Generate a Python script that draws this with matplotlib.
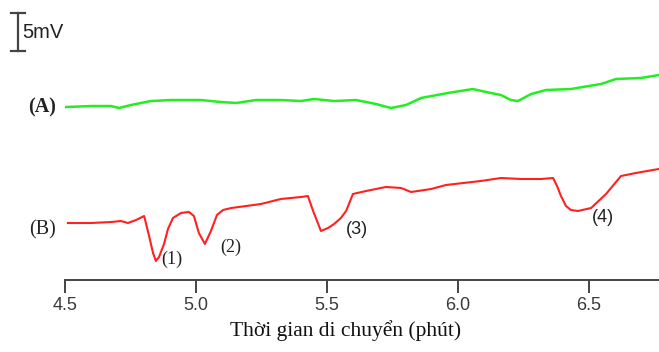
import matplotlib
matplotlib.use("Agg")
import matplotlib.pyplot as plt

# Trace (A) - green: time (min), signal (mV)
t_a = [4.504, 4.599, 4.676, 4.706, 4.752, 4.828, 4.905, 5.019, 5.095, 5.153,
       5.229, 5.324, 5.401, 5.450, 5.527, 5.611, 5.687, 5.744, 5.802, 5.859,
       5.962, 6.057, 6.107, 6.164, 6.202, 6.229, 6.279, 6.336, 6.431, 6.546,
       6.603, 6.698, 6.767]
v_a = [22.76, 22.89, 22.89, 22.63, 23.03, 23.55, 23.68, 23.68, 23.42, 23.29,
       23.68, 23.68, 23.55, 23.82, 23.55, 23.68, 23.16, 22.63, 23.03, 23.95,
       24.61, 25.13, 24.74, 24.34, 23.68, 23.55, 24.47, 25.00, 25.13, 25.79,
       26.45, 26.58, 26.97]

# Trace (B) - red
t_b = [4.511, 4.599, 4.676, 4.714, 4.740, 4.771, 4.802, 4.821, 4.836, 4.847,
       4.859, 4.878, 4.893, 4.912, 4.943, 4.973, 4.992, 5.011, 5.034, 5.057,
       5.080, 5.103, 5.134, 5.248, 5.324, 5.401, 5.427, 5.447, 5.477, 5.504,
       5.527, 5.553, 5.573, 5.599, 5.649, 5.725, 5.782, 5.821, 5.897, 5.954,
       6.088, 6.164, 6.240, 6.317, 6.363, 6.378, 6.393, 6.412, 6.431, 6.458,
       6.508, 6.565, 6.622, 6.679, 6.767]
v_b = [7.50, 7.50, 7.63, 7.76, 7.50, 7.89, 8.42, 5.79, 3.55, 2.50,
       3.03, 4.74, 6.71, 8.16, 8.82, 8.95, 8.42, 6.18, 4.74, 6.45,
       8.55, 9.21, 9.47, 10.00, 10.66, 10.92, 11.05, 9.08, 6.45, 6.84,
       7.37, 8.16, 9.08, 11.32, 11.71, 12.24, 12.11, 11.58, 11.97, 12.50,
       13.03, 13.42, 13.29, 13.29, 13.42, 12.37, 11.05, 9.74, 9.21, 9.08,
       9.47, 11.32, 13.68, 14.08, 14.61]

xticks = [4.5, 5.0, 5.5, 6.0, 6.5]
xtick_labels = ["4.5", "5.0", "5.5", "6.0", "6.5"]
peak_labels = ["(1)", "(2)", "(3)", "(4)"]
trace_labels = ["(A)", "(B)"]
xlabel = "Thời gian di chuyển (phút)"
scale_label = "5mV"

W, H = 659, 352
fig = plt.figure(figsize=(W / 100, H / 100), dpi=100)

def fx(px):
    return px / W

def fy(py):
    return 1 - py / H

ax_left, ax_right, ax_top, ax_bot = 65, 659, 0, 280
ax = fig.add_axes([fx(ax_left), fy(ax_bot), fx(ax_right - ax_left), (ax_bot - ax_top) / H])
px_per_min = 262.0
px_per_mv = 7.6
ax.set_xlim(4.5, 4.5 + (ax_right - ax_left) / px_per_min)
ax.set_ylim(0, (ax_bot - ax_top) / px_per_mv)

ax.plot(t_a, v_a, color="#22ee22", lw=1.8)
ax.plot(t_b, v_b, color="#ff2020", lw=1.5)

for s in ["top", "right", "left"]:
    ax.spines[s].set_visible(False)
ax.spines["bottom"].set_color("#444444")
ax.spines["bottom"].set_linewidth(1.4)
ax.set_yticks([])
ax.set_xticks(xticks)
ax.set_xticklabels(xtick_labels, fontfamily="Liberation Sans", fontsize=13, color="#3a3a3a")
ax.tick_params(axis="x", direction="out", length=9, width=1.4, color="#444444", pad=3)

# axis title (placed left of axes centre, as in the reference)
fig.text(fx(346), fy(331), xlabel, fontfamily="Liberation Serif", fontsize=15.5,
         ha="center", va="center", color="#111111")

# trace labels
fig.text(fx(42), fy(107), trace_labels[0], fontfamily="Liberation Serif", fontsize=14.5,
         fontweight="bold", ha="center", va="center", color="#222222")
fig.text(fx(42), fy(230), trace_labels[1], fontfamily="Liberation Serif", fontsize=14.5,
         ha="center", va="center", color="#222222")

# peak labels
peak_pos = [(172, 259), (231, 247), (357, 230), (603, 218)]
peak_fonts = ["Liberation Serif", "Liberation Serif", "Liberation Sans", "Liberation Sans"]
for lab, (px, py), fam in zip(peak_labels, peak_pos, peak_fonts):
    fig.text(fx(px), fy(py), lab, fontfamily=fam, fontsize=13, ha="center", va="center",
             color="#222222")

# scale bar (5 mV)
bar_x = 18
bar_top, bar_bot = 13, 51
fig.add_artist(plt.Line2D([fx(bar_x), fx(bar_x)], [fy(bar_top), fy(bar_bot)], color="#444444", lw=1.6))
fig.add_artist(plt.Line2D([fx(bar_x - 7), fx(bar_x + 7)], [fy(bar_top), fy(bar_top)], color="#444444", lw=1.6))
fig.add_artist(plt.Line2D([fx(bar_x - 7), fx(bar_x + 7)], [fy(bar_bot), fy(bar_bot)], color="#444444", lw=1.6))
fig.text(fx(22), fy(33), scale_label, fontfamily="Liberation Sans", fontsize=14.5,
         ha="left", va="center", color="#222222")

fig.savefig("out.png", dpi=100)
